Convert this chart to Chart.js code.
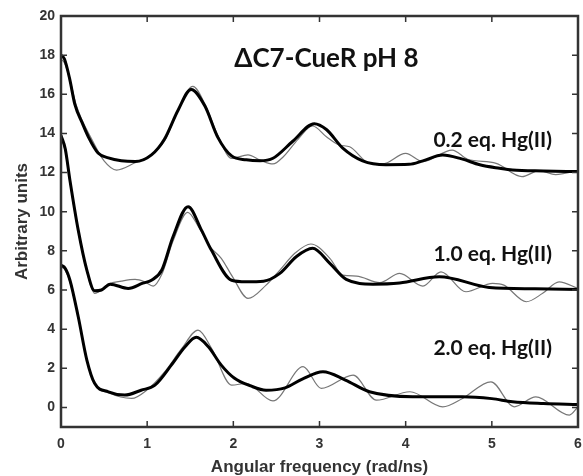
<!DOCTYPE html>
<html>
<head>
<meta charset="utf-8">
<script src="https://cdn.jsdelivr.net/npm/chart.js@4.4.1/dist/chart.umd.min.js"></script>
<style>
  body { margin: 0; background: #fff; }
  #chart { display: block; }
</style>
</head>
<body>
<canvas id="chart" width="583" height="476"></canvas>
<script>
// tick values
const xTicks = [0, 1, 2, 3, 4, 5, 6];
const yTicks = [0, 2, 4, 6, 8, 10, 12, 14, 16, 18, 20];

// 0.2 eq. Hg(II) - fit and data
const fit02X = [0, 0.04, 0.1, 0.16, 0.25, 0.32, 0.43, 0.55, 0.70, 0.86, 1.05, 1.2, 1.36, 1.51, 1.67, 1.82, 1.98, 2.15, 2.31, 2.46, 2.69, 2.94, 3.08, 3.27, 3.5, 3.77, 4.04, 4.2, 4.43, 4.65, 4.86, 5.09, 5.24, 5.6, 6];
const fit02Y = [18.0, 17.8, 16.8, 15.5, 14.5, 13.8, 13.0, 12.75, 12.6, 12.56, 12.9, 13.7, 15.2, 16.25, 15.4, 13.8, 12.85, 12.65, 12.6, 12.73, 13.6, 14.5, 14.2, 13.25, 12.6, 12.4, 12.42, 12.6, 12.9, 12.7, 12.4, 12.22, 12.13, 12.08, 12.05];
const dat02X = [0, 0.04, 0.1, 0.18, 0.36, 0.5, 0.645, 0.86, 1.01, 1.2, 1.36, 1.53, 1.67, 1.82, 1.98, 2.17, 2.31, 2.46, 2.58, 2.75, 2.92, 3.08, 3.23, 3.35, 3.58, 3.73, 4.0, 4.2, 4.54, 4.72, 5.05, 5.35, 5.55, 5.74, 6];
const dat02Y = [17.8, 17.6, 16.8, 15.4, 13.67, 12.6, 12.13, 12.5, 12.81, 13.6, 15.2, 16.4, 15.5, 13.9, 12.73, 12.9, 12.64, 12.44, 12.81, 13.7, 14.38, 13.83, 13.41, 13.32, 12.47, 12.44, 12.98, 12.56, 13.15, 12.68, 12.47, 11.79, 12.1, 11.9, 12.1];

// 1.0 eq. Hg(II)
const fit10X = [0, 0.05, 0.104, 0.2, 0.3, 0.39, 0.47, 0.57, 0.78, 0.95, 1.05, 1.17, 1.3, 1.475, 1.63, 1.745, 1.98, 2.15, 2.35, 2.54, 2.73, 2.92, 3.12, 3.31, 3.62, 3.93, 4.39, 4.97, 5.5, 6];
const fit10Y = [13.9, 13.2, 11.6, 9.06, 7.02, 5.96, 6.0, 6.3, 6.08, 6.35, 6.5, 7.02, 8.72, 10.26, 9.06, 8.04, 6.5, 6.42, 6.45, 6.85, 7.7, 8.13, 7.36, 6.54, 6.3, 6.36, 6.68, 6.13, 6.06, 6.03];
const dat10X = [0, 0.05, 0.104, 0.2, 0.3, 0.39, 0.55, 0.7, 0.86, 0.97, 1.07, 1.17, 1.3, 1.47, 1.6, 1.73, 1.86, 1.99, 2.17, 2.38, 2.54, 2.72, 2.9, 3.12, 3.27, 3.43, 3.7, 3.93, 4.2, 4.41, 4.7, 5.01, 5.14, 5.4, 5.59, 5.78, 6];
const dat10Y = [13.8, 13.1, 11.5, 9.0, 6.95, 5.83, 6.3, 6.45, 6.54, 6.42, 6.2, 6.8, 8.5, 9.97, 9.2, 8.21, 7.62, 6.68, 5.57, 6.25, 7.02, 7.9, 8.35, 7.62, 6.76, 6.71, 6.38, 6.85, 6.2, 6.93, 5.91, 6.34, 6.25, 5.4, 5.83, 6.42, 6.08];

// 2.0 eq. Hg(II)
const fit20X = [0, 0.05, 0.104, 0.2, 0.3, 0.39, 0.55, 0.74, 0.93, 1.09, 1.28, 1.44, 1.57, 1.71, 1.86, 2.01, 2.2, 2.38, 2.6, 2.8, 3.04, 3.3, 3.58, 4.08, 4.66, 5.0, 5.24, 5.6, 6];
const fit20Y = [7.27, 7.1, 6.5, 4.63, 2.42, 1.23, 0.8, 0.63, 0.88, 1.14, 2.16, 3.1, 3.58, 3.1, 2.16, 1.5, 1.1, 0.88, 1.0, 1.45, 1.82, 1.4, 0.8, 0.55, 0.55, 0.45, 0.29, 0.2, 0.15];
const dat20X = [0, 0.05, 0.104, 0.2, 0.3, 0.39, 0.55, 0.82, 1.0, 1.2, 1.4, 1.59, 1.75, 1.98, 2.15, 2.46, 2.81, 3.02, 3.39, 3.66, 4.05, 4.43, 4.66, 4.99, 5.26, 5.51, 5.9, 6];
const dat20Y = [7.2, 7.0, 6.4, 4.6, 2.4, 1.2, 0.75, 0.46, 0.9, 1.8, 3.0, 3.95, 3.0, 1.14, 1.23, 0.33, 2.08, 0.97, 1.65, 0.37, 0.8, 0.03, 0.46, 1.31, 0.03, 0.54, -0.39, 0.03];

const titleText = 'ΔC7-CueR pH 8';
const seriesLabels = ['0.2 eq. Hg(II)', '1.0 eq. Hg(II)', '2.0 eq. Hg(II)'];
// where the labels sit, in data units
const titlePos = [3.08, 17.8];
const labelPos = [[5.01, 13.67], [5.01, 7.85], [5.01, 3.0]];

function pts(xs, ys) {
  return xs.map((x, i) => ({ x: x, y: ys[i] }));
}

function fitSet(xs, ys) {
  return { data: pts(xs, ys), borderColor: '#000', borderWidth: 3, order: 1 };
}
function dataSet(xs, ys) {
  return { data: pts(xs, ys), borderColor: '#777', borderWidth: 1.2, order: 2 };
}

// box with inward ticks on all four sides, plus the text labels
const framePlugin = {
  id: 'frame',
  afterDatasetsDraw(chart) {
    const c = chart.ctx;
    const a = chart.chartArea;
    const xs = chart.scales.x;
    const ys = chart.scales.y;
    const tl = 6;
    c.save();
    c.strokeStyle = '#333';
    c.lineWidth = 1.5;
    c.beginPath();
    xTicks.forEach(v => {
      const p = xs.getPixelForValue(v);
      c.moveTo(p, a.bottom); c.lineTo(p, a.bottom - tl);
      c.moveTo(p, a.top); c.lineTo(p, a.top + tl);
    });
    yTicks.forEach(v => {
      const p = ys.getPixelForValue(v);
      c.moveTo(a.left, p); c.lineTo(a.left + tl, p);
      c.moveTo(a.right, p); c.lineTo(a.right - tl, p);
    });
    c.stroke();
    c.lineWidth = 2.5;
    c.strokeRect(a.left, a.top, a.right - a.left, a.bottom - a.top);

    c.fillStyle = '#111';
    c.textAlign = 'center';
    c.textBaseline = 'middle';
    c.font = 'bold 26px Lato';
    c.fillText(titleText, xs.getPixelForValue(titlePos[0]), ys.getPixelForValue(titlePos[1]));
    c.font = 'bold 21px Lato';
    seriesLabels.forEach((t, i) => {
      c.fillText(t, xs.getPixelForValue(labelPos[i][0]), ys.getPixelForValue(labelPos[i][1]));
    });
    c.restore();
  }
};

new Chart(document.getElementById('chart'), {
  type: 'line',
  data: {
    datasets: [
      fitSet(fit02X, fit02Y), fitSet(fit10X, fit10Y), fitSet(fit20X, fit20Y),
      dataSet(dat02X, dat02Y), dataSet(dat10X, dat10Y), dataSet(dat20X, dat20Y)
    ]
  },
  plugins: [framePlugin],
  options: {
    responsive: false,
    animation: false,
    layout: { padding: { top: 16, right: 5, left: 0, bottom: 0 } },
    elements: {
      point: { radius: 0 },
      line: { cubicInterpolationMode: 'monotone', fill: false }
    },
    plugins: { legend: { display: false }, tooltip: { enabled: false } },
    scales: {
      x: {
        type: 'linear', min: 0, max: 6,
        grid: { display: false, drawTicks: false }, border: { display: false },
        afterBuildTicks: s => { s.ticks = xTicks.map(v => ({ value: v })); },
        afterFit: s => { s.height = 49; s.paddingLeft = 0; s.paddingRight = 0; },
        ticks: { color: '#333', padding: 9, font: { family: 'Liberation Sans', weight: 'bold', size: 14 } },
        title: { display: true, text: 'Angular frequency (rad/ns)', color: '#333', padding: { top: 0, bottom: -2 },
                 font: { family: 'Liberation Sans', weight: 'bold', size: 17 } }
      },
      y: {
        type: 'linear', min: -1, max: 20,
        grid: { display: false, drawTicks: false }, border: { display: false },
        afterBuildTicks: s => { s.ticks = yTicks.map(v => ({ value: v })); },
        afterFit: s => { s.width = 61; s.paddingTop = 0; s.paddingBottom = 0; },
        ticks: { color: '#333', padding: 6, font: { family: 'Liberation Sans', weight: 'bold', size: 14 } },
        title: { display: true, text: 'Arbitrary units', color: '#333', padding: { top: 12, bottom: 0 },
                 font: { family: 'Liberation Sans', weight: 'bold', size: 17 } }
      }
    }
  }
});
</script>
</body>
</html>
